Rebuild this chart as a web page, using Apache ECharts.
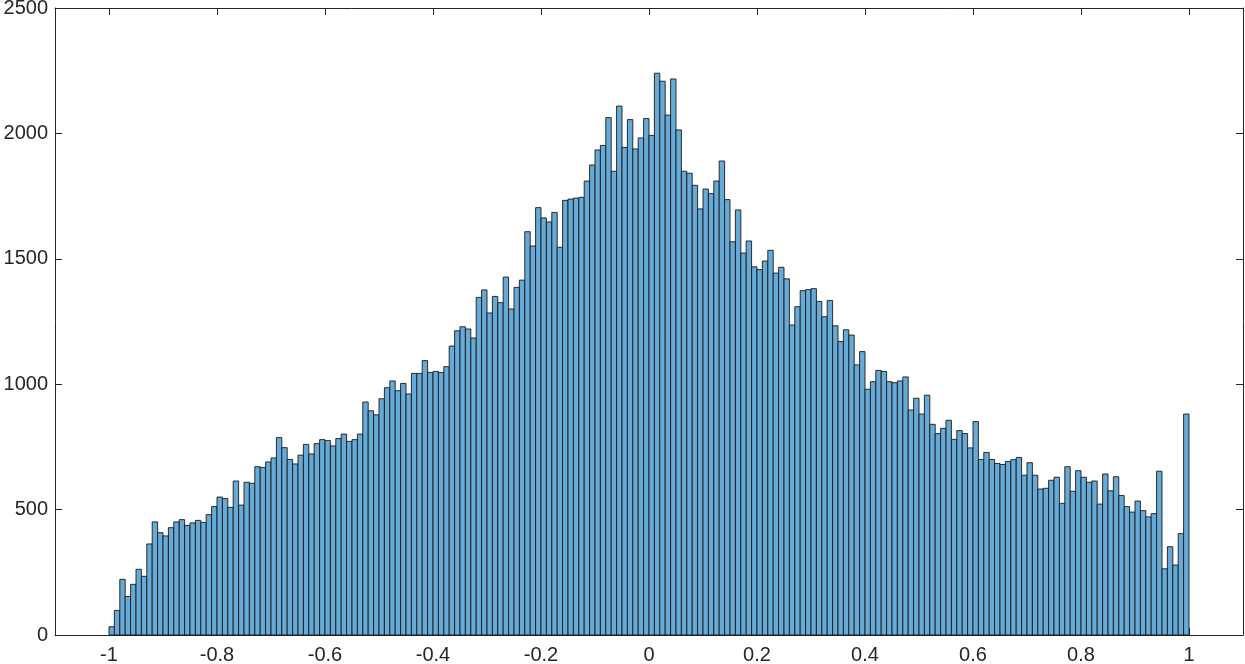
<!DOCTYPE html>
<html>
<head>
<meta charset="utf-8">
<script src="https://cdn.jsdelivr.net/npm/echarts@6/dist/echarts.min.js"></script>
<style>
    html, body { margin: 0; padding: 0; background: #fff; }
    #chart { width: 1245px; height: 664px; }
</style>
</head>
<body>
<div id="chart"></div>
<script>
// histogram bins: first edge and width, counts per bin
var binStart = -1;
var binWidth = 0.01;
var counts = [
    33, 98, 222, 154, 202, 262, 234, 363, 451, 408,
    395, 428, 451, 460, 437, 447, 457, 449, 480, 512,
    550, 544, 509, 614, 518, 609, 605, 671, 668, 690,
    706, 787, 747, 700, 682, 717, 760, 722, 763, 779,
    775, 754, 783, 801, 772, 779, 801, 929, 894, 878,
    942, 986, 1013, 974, 1003, 961, 1043, 1043, 1094, 1047,
    1051, 1047, 1070, 1152, 1213, 1229, 1220, 1184, 1346, 1376,
    1284, 1350, 1325, 1427, 1300, 1386, 1415, 1608, 1551, 1704,
    1663, 1647, 1685, 1546, 1733, 1738, 1742, 1745, 1810, 1874,
    1934, 1952, 2063, 1849, 2109, 1944, 2055, 1938, 1982, 2059,
    1992, 2240, 2208, 2073, 2217, 2014, 1849, 1841, 1793, 1699,
    1778, 1760, 1810, 1890, 1736, 1568, 1695, 1523, 1571, 1468,
    1457, 1491, 1534, 1443, 1466, 1420, 1236, 1309, 1373, 1377,
    1381, 1330, 1269, 1334, 1233, 1170, 1217, 1196, 1077, 1130,
    980, 1010, 1055, 1051, 1010, 1006, 1013, 1029, 897, 944,
    881, 956, 840, 803, 824, 856, 780, 815, 803, 746,
    851, 700, 728, 700, 684, 680, 692, 699, 708, 637,
    687, 637, 582, 585, 617, 629, 525, 671, 573, 655,
    629, 609, 614, 522, 642, 575, 631, 556, 512, 490,
    534, 496, 471, 484, 653, 264, 352, 279, 404, 881
];
var xTicks = [-1, -0.8, -0.6, -0.4, -0.2, 0, 0.2, 0.4, 0.6, 0.8, 1];

var myChart = echarts.init(document.getElementById('chart'));

var histData = [];
for (var i = 0; i < counts.length; i++) {
    histData.push([binStart + i * binWidth, counts[i]]);
}

var axisColor = '#262626';

var option = {
    animation: false,
    backgroundColor: '#ffffff',
    grid: { left: 55, right: 2, top: 8, bottom: 29, outerBoundsMode: 'none' },
    xAxis: [{
        type: 'value',
        min: -1.1,
        max: 1.1,
        axisLine: { show: true, onZero: false, lineStyle: { color: axisColor, width: 1 } },
        axisTick: { show: true, inside: true, length: 7, customValues: xTicks, lineStyle: { color: axisColor } },
        axisLabel: {
            customValues: xTicks,
            margin: 10,
            color: axisColor, fontSize: 20, fontFamily: 'Liberation Sans',
            formatter: function (v) { return String(Math.round(v * 10) / 10); }
        },
        splitLine: { show: false }
    }, {
        type: 'value',
        position: 'top',
        min: -1.1,
        max: 1.1,
        axisLine: { show: true, onZero: false, lineStyle: { color: axisColor, width: 1 } },
        axisTick: { show: true, inside: true, length: 7, customValues: xTicks, lineStyle: { color: axisColor } },
        axisLabel: { show: false },
        splitLine: { show: false }
    }],
    yAxis: [{
        type: 'value',
        min: 0,
        max: 2500,
        interval: 500,
        axisLine: { show: true, onZero: false, lineStyle: { color: axisColor, width: 1 } },
        axisTick: { show: true, inside: true, length: 7, lineStyle: { color: axisColor } },
        axisLabel: {
            margin: 7,
            color: axisColor, fontSize: 20, fontFamily: 'Liberation Sans',
            formatter: function (v) { return String(v); }
        },
        splitLine: { show: false }
    }, {
        type: 'value',
        position: 'right',
        min: 0,
        max: 2500,
        interval: 500,
        axisLine: { show: true, onZero: false, lineStyle: { color: axisColor, width: 1 } },
        axisTick: { show: true, inside: true, length: 7, lineStyle: { color: axisColor } },
        axisLabel: { show: false },
        splitLine: { show: false }
    }],
    series: [{
        type: 'custom',
        xAxisIndex: 0,
        yAxisIndex: 0,
        encode: { x: 0, y: 1 },
        renderItem: function (params, api) {
            var x0 = api.value(0);
            var h = api.value(1);
            var p0 = api.coord([x0, h]);
            var p1 = api.coord([x0 + binWidth, 0]);
            return {
                type: 'rect',
                shape: { x: p0[0], y: p0[1], width: p1[0] - p0[0], height: p1[1] - p0[1] },
                style: { fill: '#66aad7', stroke: '#1a1a1a', lineWidth: 0.9 }
            };
        },
        data: histData
    }]
};

myChart.setOption(option);
</script>
</body>
</html>
